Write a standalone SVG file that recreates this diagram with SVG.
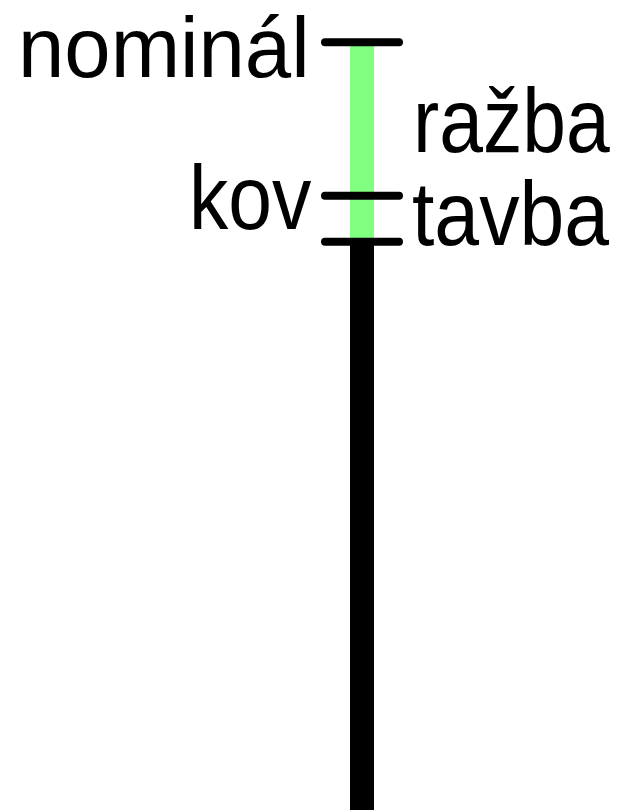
<svg xmlns="http://www.w3.org/2000/svg" width="621" height="810" viewBox="0 0 621 810">
<style>
text{font-family:"Liberation Sans",Arial,sans-serif;font-size:91px;fill:#000}
.tick{stroke:#000;stroke-width:8;stroke-linecap:round;fill:none}
</style>
<rect width="621" height="810" fill="#fff"/>
<g id="bar">
<rect x="350" y="42" width="24" height="200" fill="#80ff80"/>
<rect x="350" y="241" width="24" height="569" fill="#000"/>
</g>
<g id="connectors">
<line class="tick" x1="325" y1="42.3" x2="399" y2="42.3"/>
<line class="tick" x1="325" y1="195.7" x2="399" y2="195.7"/>
<line class="tick" x1="325" y1="241.7" x2="399" y2="241.7"/>
</g>
<g id="nominal"><text style="font-size:85px" transform="translate(18,77) scale(0.98,1)">nominál</text></g>
<g id="razba"><text transform="translate(413,152) scale(0.865,1)">ražba</text></g>
<g id="kov"><text transform="translate(189,229) scale(0.865,1)">kov</text></g>
<g id="tavba"><text transform="translate(412,245) scale(0.885,1)">tavba</text></g>
</svg>
